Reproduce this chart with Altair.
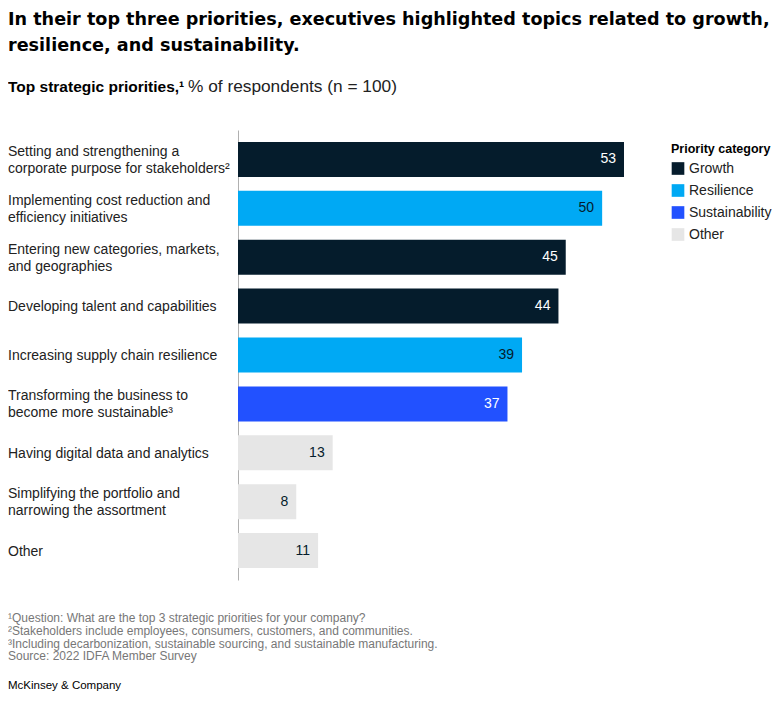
import altair as alt
import pandas as pd

title_lines = [
    "In their top three priorities, executives highlighted topics related to growth,",
    "resilience, and sustainability.",
]
labels = [
    "Setting and strengthening a|corporate purpose for stakeholders²",
    "Implementing cost reduction and|efficiency initiatives",
    "Entering new categories, markets,|and geographies",
    "Developing talent and capabilities",
    "Increasing supply chain resilience",
    "Transforming the business to|become more sustainable³",
    "Having digital data and analytics",
    "Simplifying the portfolio and|narrowing the assortment",
    "Other",
]
values = [53, 50, 45, 44, 39, 37, 13, 8, 11]
categories = ["Growth", "Resilience", "Growth", "Growth", "Resilience",
              "Sustainability", "Other", "Other", "Other"]

cat_domain = ["Growth", "Resilience", "Sustainability", "Other"]
cat_colors = ["#051C2C", "#00A9F4", "#2251FF", "#E6E6E6"]
text_colors = {"Growth": "#FFFFFF", "Resilience": "#051C2C",
               "Sustainability": "#FFFFFF", "Other": "#051C2C"}

footnotes = [
    "¹Question: What are the top 3 strategic priorities for your company?",
    "²Stakeholders include employees, consumers, customers, and communities.",
    "³Including decarbonization, sustainable sourcing, and sustainable manufacturing.",
    " Source: 2022 IDFA Member Survey",
]

LINE_H = 17
HALF_BAND = 17.5
df = pd.DataFrame({
    "label": labels,
    "value": values,
    "category": categories,
    "tcolor": [text_colors[c] for c in categories],
    # vertical shift (px from band start) so wrapped labels are centred on their bar
    "loff": [HALF_BAND + 1 - (lab.count("|") * LINE_H) / 2 for lab in labels],
})

FONT = "Liberation Sans"
W, H = 386, 450
LEFT = -230

y_axis = alt.Axis(labels=False, ticks=False, title=None, domain=True,
                  domainColor="#B0B0B0", domainWidth=1, grid=False)
y_scale = alt.Scale(paddingInner=0.284, paddingOuter=0.245)
y_enc = alt.Y("label:N", sort=labels, scale=y_scale, axis=y_axis)
x_scale = alt.Scale(domain=[0, 53], nice=False, zero=True)

base = alt.Chart(df)

bars = base.mark_bar().encode(
    x=alt.X("value:Q", scale=x_scale, axis=None),
    y=y_enc,
    color=alt.Color("category:N",
                    scale=alt.Scale(domain=cat_domain, range=cat_colors),
                    legend=alt.Legend(title="Priority category", orient="none",
                                      legendX=433, legendY=13,
                                      symbolType="square", symbolSize=160,
                                      symbolStrokeWidth=0,
                                      titleFont=FONT, titleFontSize=12.5,
                                      titleFontWeight="bold", titleColor="#000000",
                                      labelFont=FONT, labelFontSize=14,
                                      labelColor="#222222", rowPadding=8,
                                      titlePadding=6)),
)

vals = base.mark_text(align="right", baseline="middle", dx=-8, font=FONT,
                      fontSize=14).encode(
    x=alt.X("value:Q", scale=x_scale, axis=None),
    y=y_enc,
    text=alt.Text("value:Q"),
    color=alt.Color("tcolor:N", scale=None),
)

cat_labels = base.mark_text(align="left", baseline="middle", font=FONT,
                            fontSize=14, lineBreak="|", lineHeight=LINE_H,
                            color="#222222").encode(
    x=alt.value(LEFT),
    y=y_enc,
    yOffset=alt.YOffset("loff:Q", scale=None),
    text="label:N",
)

layers = [bars, vals, cat_labels]

# headline
for i, line in enumerate(title_lines):
    layers.append(
        alt.Chart(pd.DataFrame({"t": [line]})).mark_text(
            align="left", baseline="middle", font="DejaVu Sans", fontSize=17.6,
            fontWeight="bold", color="#000000").encode(
            x=alt.value(LEFT), y=alt.value(-110 + 26 * i), text="t:N"))

# subtitle (bold part + regular part)
layers.append(
    alt.Chart(pd.DataFrame({"t": ["Top strategic priorities,¹"]})).mark_text(
        align="left", baseline="middle", font=FONT, fontSize=15.5,
        fontWeight="bold", color="#000000").encode(
        x=alt.value(LEFT), y=alt.value(-43), text="t:N"))
layers.append(
    alt.Chart(pd.DataFrame({"t": ["% of respondents (n = 100)"]})).mark_text(
        align="left", baseline="middle", font=FONT, fontSize=17.3,
        color="#222222").encode(
        x=alt.value(-50), y=alt.value(-43), text="t:N"))

# footnotes
for i, line in enumerate(footnotes):
    layers.append(
        alt.Chart(pd.DataFrame({"t": [line]})).mark_text(
            align="left", baseline="middle", font=FONT, fontSize=12,
            color="#777777").encode(
            x=alt.value(LEFT), y=alt.value(488 + 12.8 * i), text="t:N"))

layers.append(
    alt.Chart(pd.DataFrame({"t": ["McKinsey & Company"]})).mark_text(
        align="left", baseline="middle", font=FONT, fontSize=11.5,
        color="#000000").encode(
        x=alt.value(LEFT), y=alt.value(556), text="t:N"))

chart = alt.layer(*layers).resolve_scale(
    color="independent"
).properties(
    width=W, height=H,
    autosize=alt.AutoSizeParams(type="none"),
    padding={"left": 230, "top": 122, "right": 148, "bottom": 113},
).configure_view(stroke=None)

chart.save("out.html", embed_options={"renderer": "svg", "actions": False})
